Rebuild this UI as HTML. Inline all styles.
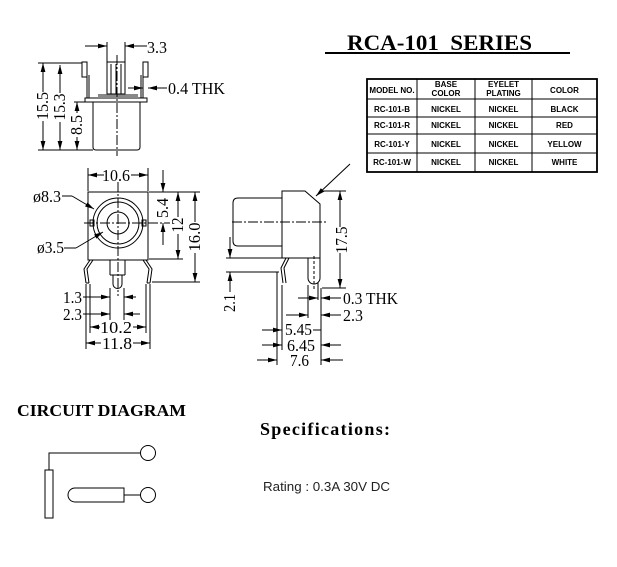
<!DOCTYPE html>
<html><head><meta charset="utf-8"><style>
html,body{margin:0;padding:0;background:#fff;}
svg{display:block;}
.d{font-family:"Liberation Serif",serif;font-size:17px;fill:#000;stroke:none;}
.t{font-family:"Liberation Sans",sans-serif;font-size:8px;font-weight:bold;fill:#000;stroke:none;text-anchor:middle;}
</style></head><body>
<svg width="617" height="567" viewBox="0 0 617 567" xmlns="http://www.w3.org/2000/svg">
<defs>
<marker id="a" markerUnits="userSpaceOnUse" markerWidth="9" markerHeight="6" refX="9" refY="3" orient="auto"><path d="M0,0.6 L9,3 L0,5.4 Z" fill="#000"/></marker>
</defs>
<rect width="617" height="567" fill="#fff"/>

<!-- Title -->
<text x="347" y="50" font-family="Liberation Serif, serif" font-size="22" font-weight="bold" textLength="185" lengthAdjust="spacingAndGlyphs" xml:space="preserve">RCA-101&#160; SERIES</text>
<line x1="325" y1="53" x2="570" y2="53" stroke="#000" stroke-width="2"/>

<g stroke="#000" stroke-width="1" fill="none">
<!-- ========== TOP VIEW ========== -->
<rect x="82" y="62" width="5" height="15"/>
<rect x="143" y="62" width="5" height="15"/>
<path d="M87,62 V98 M89,75 V98 M143,62 V98 M141,75 V98"/>
<path d="M85,98 H147 V102 H85 Z"/>
<rect x="98" y="94" width="40" height="4" fill="#888" stroke="none"/>
<path d="M93,102 V147 Q93,150 96,150 H137 Q140,150 140,147 V102"/>
<rect x="107" y="62" width="18" height="32"/>
<path d="M111,64 V94 M116,64 V94 M121,64 V94"/>
<line x1="117" y1="55" x2="117" y2="156" stroke-dasharray="10 2 2 2"/>
<!-- 3.3 -->
<path d="M107,42 V62 M125,42 V62"/>
<line x1="85" y1="46" x2="107" y2="46" marker-end="url(#a)"/>
<line x1="147" y1="46" x2="125" y2="46" marker-end="url(#a)"/>
<!-- 0.4 THK -->
<line x1="128" y1="88" x2="143" y2="88" marker-end="url(#a)"/>
<line x1="167" y1="88" x2="148" y2="88" marker-end="url(#a)"/>
<!-- 15.5 / 15.3 / 8.5 -->
<path d="M38,63 H82 M38,150 H93 M74,102 H93"/>
<line x1="43" y1="92" x2="43" y2="63" marker-end="url(#a)"/>
<line x1="43" y1="121" x2="43" y2="150" marker-end="url(#a)"/>
<line x1="60" y1="93" x2="60" y2="65" marker-end="url(#a)"/>
<line x1="60" y1="122" x2="60" y2="150" marker-end="url(#a)"/>
<line x1="77" y1="113" x2="77" y2="102" marker-end="url(#a)"/>
<line x1="77" y1="137" x2="77" y2="150" marker-end="url(#a)"/>

<!-- ========== FRONT VIEW ========== -->
<rect x="88" y="192" width="60" height="68"/>
<circle cx="118" cy="223" r="25"/>
<circle cx="118" cy="223" r="21"/>
<circle cx="118" cy="223" r="11"/>
<rect x="90" y="220" width="4" height="6"/>
<rect x="142" y="220" width="4" height="6"/>
<line x1="118" y1="182" x2="118" y2="296" stroke-dasharray="10 2 2 2"/>
<line x1="84" y1="223" x2="170" y2="223" stroke-dasharray="10 2 2 2"/>
<path d="M93,260 L87,269 L89,283 M90,260 L84,269 L86,283 M86,283 H89"/>
<path d="M143,260 L149,269 L147,283 M146,260 L152,269 L150,283 M147,283 H150"/>
<path d="M110,260 V275 M125,260 V275 M110,275 H125 M113,275 V284 A4.5,4.5 0 0 0 122,284 V275"/>
<!-- 10.6 -->
<path d="M88,168 V191 M148,168 V191"/>
<line x1="104" y1="175" x2="88" y2="175" marker-end="url(#a)"/>
<line x1="131" y1="175" x2="148" y2="175" marker-end="url(#a)"/>
<!-- right dims -->
<path d="M149,192 H200 M149,259 H183 M152,282 H200"/>
<line x1="163" y1="170" x2="163" y2="192" marker-end="url(#a)"/>
<line x1="163" y1="245" x2="163" y2="223" marker-end="url(#a)"/>
<line x1="178" y1="217" x2="178" y2="192" marker-end="url(#a)"/>
<line x1="178" y1="234" x2="178" y2="259" marker-end="url(#a)"/>
<line x1="195" y1="222" x2="195" y2="192" marker-end="url(#a)"/>
<line x1="195" y1="253" x2="195" y2="282" marker-end="url(#a)"/>
<!-- leaders -->
<path d="M62,196 H72"/>
<line x1="72" y1="196" x2="94" y2="209" marker-end="url(#a)"/>
<path d="M64,248 H76"/>
<line x1="76" y1="248" x2="103" y2="232" marker-end="url(#a)"/>
<!-- bottom dims -->
<path d="M110,288 V320 M124,288 V320 M90,284 V333 M146,284 V333 M86,284 V349 M150,284 V349"/>
<line x1="83" y1="297" x2="110" y2="297" marker-end="url(#a)"/>
<line x1="136" y1="297" x2="124" y2="297" marker-end="url(#a)"/>
<line x1="83" y1="314" x2="110" y2="314" marker-end="url(#a)"/>
<line x1="140" y1="314" x2="124" y2="314" marker-end="url(#a)"/>
<line x1="100" y1="327" x2="90" y2="327" marker-end="url(#a)"/>
<line x1="133" y1="327" x2="146" y2="327" marker-end="url(#a)"/>
<line x1="101" y1="343" x2="86" y2="343" marker-end="url(#a)"/>
<line x1="133" y1="343" x2="150" y2="343" marker-end="url(#a)"/>

<!-- ========== SIDE VIEW ========== -->
<path d="M282,191 H305 L320,204 V258 H282 Z"/>
<path d="M282,198 H238 Q233,198 233,203 V241 Q233,246 238,246 H282"/>
<line x1="232" y1="222" x2="326" y2="222" stroke-dasharray="10 2 2 2"/>
<path d="M286,258 L281,268 L283,283 M289,258 L284,268 L286,283"/>
<path d="M308,258 V278 A6,6 0 0 0 320,278 V258"/>
<line x1="314" y1="256" x2="314" y2="290" stroke-dasharray="3 2"/>
<line x1="350" y1="164" x2="316" y2="196" marker-end="url(#a)"/>
<!-- 17.5 -->
<path d="M321,191 H346 M322,288 H346"/>
<line x1="340" y1="227" x2="340" y2="191" marker-end="url(#a)"/>
<line x1="340" y1="253" x2="340" y2="288" marker-end="url(#a)"/>
<!-- 2.1 -->
<path d="M226,258 H282 M226,272 H279"/>
<line x1="230" y1="237" x2="230" y2="258" marker-end="url(#a)"/>
<line x1="230" y1="292" x2="230" y2="272" marker-end="url(#a)"/>
<!-- bottom dims side -->
<path d="M277,272 V365 M282,285 V350 M321,288 V365 M308,285 V318 M318,283 V300"/>
<line x1="298" y1="298" x2="318" y2="298" marker-end="url(#a)"/>
<line x1="341" y1="298" x2="321" y2="298" marker-end="url(#a)"/>
<line x1="286" y1="315" x2="308" y2="315" marker-end="url(#a)"/>
<line x1="341" y1="315" x2="321" y2="315" marker-end="url(#a)"/>
<line x1="262" y1="330" x2="282" y2="330" marker-end="url(#a)"/>
<path d="M313,330 H321"/>
<line x1="262" y1="345" x2="282" y2="345" marker-end="url(#a)"/>
<line x1="341" y1="345" x2="321" y2="345" marker-end="url(#a)"/>
<line x1="257" y1="360" x2="277" y2="360" marker-end="url(#a)"/>
<line x1="343" y1="360" x2="321" y2="360" marker-end="url(#a)"/>

<!-- ========== TABLE ========== -->
<rect x="367" y="79" width="230" height="93" stroke-width="1.8"/>
<path d="M417,79 V172 M475,79 V172 M532,79 V172 M367,99 H597 M367,117 H597 M367,134 H597 M367,153 H597"/>

<!-- ========== CIRCUIT ========== -->
<rect x="45" y="470" width="8" height="48"/>
<path d="M49,470 V453 H140"/>
<circle cx="148" cy="453" r="7.5"/>
<path d="M124,488 H75 A7,7 0 0 0 75,502 H124 Z"/>
<line x1="124" y1="495" x2="140" y2="495"/>
<circle cx="148" cy="495" r="7.5"/>
</g>

<!-- dimension texts -->
<g class="d">
<text x="147" y="53" textLength="20" lengthAdjust="spacingAndGlyphs">3.3</text>
<text x="168" y="94" textLength="57" lengthAdjust="spacingAndGlyphs">0.4 THK</text>
<text transform="translate(48,106) rotate(-90)" text-anchor="middle" textLength="28" lengthAdjust="spacingAndGlyphs">15.5</text>
<text transform="translate(65,107) rotate(-90)" text-anchor="middle" textLength="27" lengthAdjust="spacingAndGlyphs">15.3</text>
<text transform="translate(82,125) rotate(-90)" text-anchor="middle" textLength="20" lengthAdjust="spacingAndGlyphs">8.5</text>

<text x="102" y="181" textLength="28" lengthAdjust="spacingAndGlyphs">10.6</text>
<text x="33" y="202" textLength="28" lengthAdjust="spacingAndGlyphs">ø8.3</text>
<text x="37" y="253" textLength="27" lengthAdjust="spacingAndGlyphs">ø3.5</text>
<text transform="translate(168,208) rotate(-90)" text-anchor="middle" textLength="20" lengthAdjust="spacingAndGlyphs">5.4</text>
<text transform="translate(183,225) rotate(-90)" text-anchor="middle" textLength="15" lengthAdjust="spacingAndGlyphs">12</text>
<text transform="translate(200,237) rotate(-90)" text-anchor="middle" textLength="29" lengthAdjust="spacingAndGlyphs">16.0</text>
<text x="63" y="303" textLength="19" lengthAdjust="spacingAndGlyphs">1.3</text>
<text x="63" y="320" textLength="19" lengthAdjust="spacingAndGlyphs">2.3</text>
<text x="100" y="333" textLength="32" lengthAdjust="spacingAndGlyphs">10.2</text>
<text x="102" y="349" textLength="30" lengthAdjust="spacingAndGlyphs">11.8</text>

<text transform="translate(347,240) rotate(-90)" text-anchor="middle" textLength="27" lengthAdjust="spacingAndGlyphs">17.5</text>
<text transform="translate(235,303) rotate(-90)" text-anchor="middle" textLength="18" lengthAdjust="spacingAndGlyphs">2.1</text>
<text x="343" y="304" textLength="55" lengthAdjust="spacingAndGlyphs">0.3 THK</text>
<text x="343" y="321" textLength="20" lengthAdjust="spacingAndGlyphs">2.3</text>
<text x="285" y="335" textLength="27" lengthAdjust="spacingAndGlyphs">5.45</text>
<text x="287" y="351" textLength="28" lengthAdjust="spacingAndGlyphs">6.45</text>
<text x="290" y="366" textLength="19" lengthAdjust="spacingAndGlyphs">7.6</text>
</g>

<!-- table texts -->
<g class="t">
<text x="392" y="93">MODEL NO.</text>
<text x="446" y="87">BASE</text>
<text x="446" y="96">COLOR</text>
<text x="503.5" y="87">EYELET</text>
<text x="503.5" y="96">PLATING</text>
<text x="564.5" y="93">COLOR</text>

<text x="392" y="112">RC-101-B</text>
<text x="446" y="112">NICKEL</text>
<text x="503.5" y="112">NICKEL</text>
<text x="564.5" y="112">BLACK</text>

<text x="392" y="128">RC-101-R</text>
<text x="446" y="128">NICKEL</text>
<text x="503.5" y="128">NICKEL</text>
<text x="564.5" y="128">RED</text>

<text x="392" y="147">RC-101-Y</text>
<text x="446" y="147">NICKEL</text>
<text x="503.5" y="147">NICKEL</text>
<text x="564.5" y="147">YELLOW</text>

<text x="392" y="165">RC-101-W</text>
<text x="446" y="165">NICKEL</text>
<text x="503.5" y="165">NICKEL</text>
<text x="564.5" y="165">WHITE</text>
</g>

<!-- bottom labels -->
<text x="17" y="416" font-family="Liberation Serif, serif" font-size="17" font-weight="bold" textLength="169" lengthAdjust="spacingAndGlyphs">CIRCUIT DIAGRAM</text>
<text x="260" y="435" font-family="Liberation Serif, serif" font-size="18" font-weight="bold" textLength="130" lengthAdjust="spacing">Specifications:</text>
<text x="263" y="491" font-family="Liberation Sans, sans-serif" font-size="13" fill="#222" textLength="127" lengthAdjust="spacingAndGlyphs">Rating : 0.3A 30V DC</text>
</svg>
</body></html>
